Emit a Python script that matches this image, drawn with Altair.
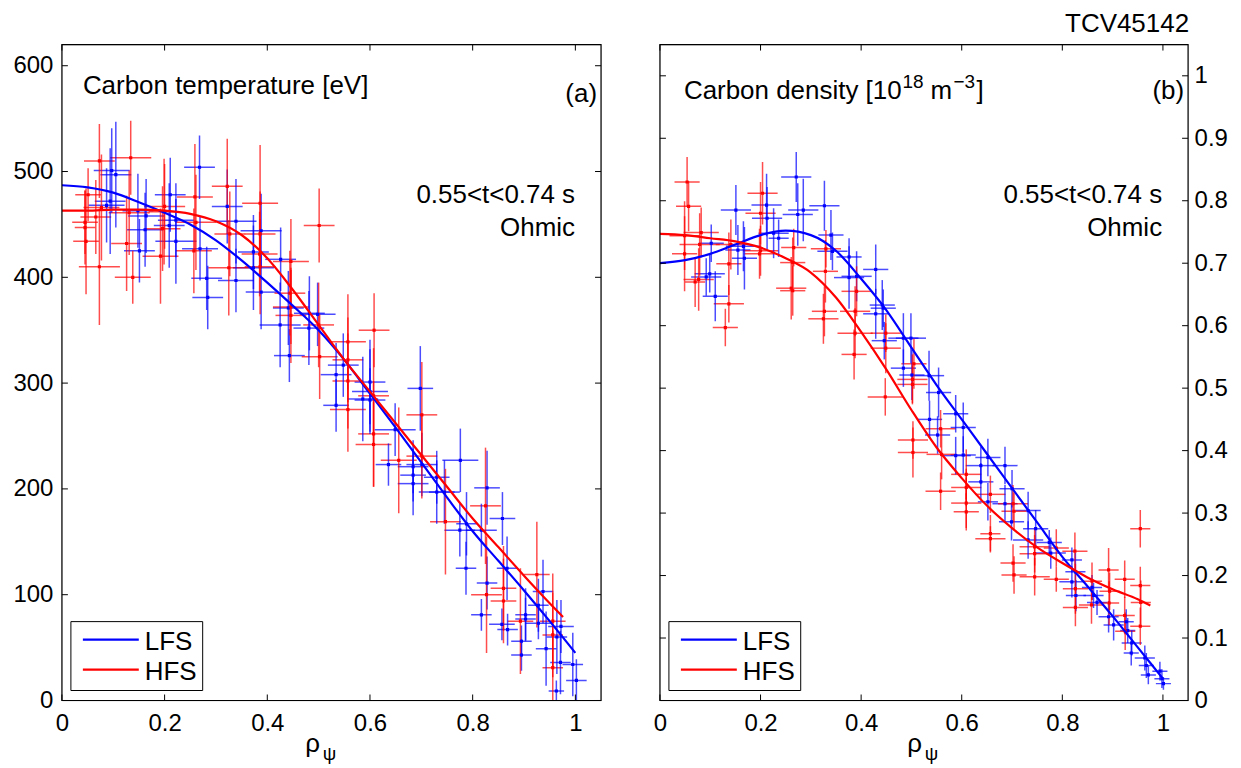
import altair as alt
import pandas as pd

# ---------------- data ----------------
XTICKS = [0, 0.2, 0.4, 0.6, 0.8, 1.0]
YTICKS_A = [0, 100, 200, 300, 400, 500, 600]
YTICKS_B = [0, 0.1, 0.2, 0.3, 0.4, 0.5, 0.6, 0.7, 0.8, 0.9, 1.0]
SIDES = ["LFS", "HFS"]
COLORS = ["#0000ff", "#ff0000"]

# Panel (a): carbon temperature [eV]
a_hfs_x = [0.045, 0.045, 0.047, 0.051, 0.066, 0.073, 0.073, 0.077, 0.126, 0.131, 0.134, 0.138,
           0.192, 0.196, 0.200, 0.199, 0.259, 0.261, 0.257, 0.322, 0.327, 0.325, 0.386, 0.386,
           0.385, 0.386, 0.446, 0.444, 0.446, 0.446, 0.501, 0.500, 0.502, 0.557, 0.557, 0.557,
           0.557, 0.608, 0.607, 0.607, 0.607, 0.656, 0.701, 0.701, 0.747, 0.825, 0.827, 0.860,
           0.860, 0.893, 0.925, 0.956, 0.956, 0.956]
a_hfs_y = [452, 447, 434, 478, 457, 510, 410, 466, 432, 461, 513, 400,
           420, 446, 467, 462, 476, 452, 425, 486, 441, 409, 470, 441,
           422, 410, 415, 385, 372, 364, 449, 355, 325, 339, 322, 302,
           275, 350, 288, 252, 242, 227, 270, 231, 169, 184, 100, 106,
           94, 75, 119, 75, 62, 31]
a_hfs_dx = [0.025, 0.02, 0.025, 0.025, 0.03, 0.03, 0.04, 0.035, 0.03, 0.04, 0.04, 0.035,
            0.035, 0.035, 0.04, 0.03, 0.035, 0.04, 0.035, 0.03, 0.03, 0.04, 0.035, 0.03,
            0.035, 0.03, 0.035, 0.03, 0.035, 0.03, 0.03, 0.03, 0.035, 0.035, 0.03, 0.03,
            0.035, 0.03, 0.03, 0.03, 0.035, 0.035, 0.03, 0.03, 0.03, 0.03, 0.03, 0.025,
            0.025, 0.025, 0.025, 0.025, 0.02, 0.02]
a_hfs_dy = [30, 35, 50, 25, 35, 35, 55, 50, 45, 40, 35, 25,
            45, 40, 40, 50, 50, 45, 40, 45, 40, 45, 55, 40,
            40, 45, 40, 40, 35, 45, 35, 40, 40, 45, 40, 45,
            40, 35, 45, 50, 40, 50, 50, 40, 50, 55, 55, 40,
            40, 50, 50, 45, 40, 35]

a_lfs_x = [0.087, 0.094, 0.097, 0.105, 0.148, 0.151, 0.162, 0.164, 0.209, 0.211, 0.222, 0.222,
           0.268, 0.269, 0.282, 0.284, 0.322, 0.339, 0.339, 0.373, 0.373, 0.388, 0.388, 0.426,
           0.425, 0.441, 0.443, 0.481, 0.482, 0.498, 0.534, 0.534, 0.548, 0.586, 0.600, 0.600,
           0.600, 0.636, 0.649, 0.684, 0.684, 0.684, 0.698, 0.701, 0.730, 0.730, 0.745, 0.776,
           0.775, 0.788, 0.787, 0.817, 0.817, 0.828, 0.828, 0.858, 0.867, 0.857, 0.868, 0.903,
           0.903, 0.895, 0.895, 0.928, 0.937, 0.928, 0.943, 0.964, 0.972, 0.971, 0.963, 0.995,
           1.002]
a_lfs_y = [468, 472, 501, 497, 463, 425, 445, 458, 449, 478, 454, 434,
           504, 427, 399, 381, 467, 453, 397, 424, 409, 444, 386, 417,
           355, 371, 326, 352, 366, 365, 308, 279, 317, 285, 301, 292,
           284, 223, 256, 221, 213, 205, 295, 223, 211, 197, 197, 227,
           161, 167, 125, 161, 81, 201, 111, 172, 125, 72, 67, 81,
           77, 56, 43, 90, 103, 73, 49, 60, 70, 36, 9, 34,
           19]
a_lfs_dx = [0.035, 0.03, 0.035, 0.03, 0.03, 0.03, 0.035, 0.035, 0.03, 0.03, 0.035, 0.04,
            0.03, 0.035, 0.03, 0.03, 0.03, 0.04, 0.035, 0.03, 0.04, 0.04, 0.03, 0.03,
            0.04, 0.03, 0.03, 0.03, 0.03, 0.035, 0.03, 0.025, 0.03, 0.03, 0.03, 0.035,
            0.03, 0.025, 0.04, 0.03, 0.025, 0.03, 0.025, 0.03, 0.025, 0.035, 0.03, 0.035,
            0.03, 0.02, 0.02, 0.03, 0.02, 0.025, 0.02, 0.025, 0.02, 0.025, 0.02, 0.02,
            0.02, 0.02, 0.02, 0.02, 0.02, 0.025, 0.02, 0.02, 0.025, 0.02, 0.015, 0.02,
            0.02]
a_lfs_dy = [35, 50, 40, 50, 35, 30, 35, 35, 40, 35, 35, 40,
            30, 30, 30, 30, 35, 40, 30, 35, 40, 35, 35, 30,
            40, 35, 25, 35, 35, 30, 30, 25, 30, 40, 40, 40,
            30, 20, 25, 25, 25, 30, 40, 30, 25, 30, 30, 30,
            25, 30, 25, 25, 15, 35, 25, 25, 30, 15, 15, 25,
            20, 15, 15, 25, 30, 15, 35, 35, 25, 30, 10, 30,
            20]

a_fit_lfs_x = [0, 0.05, 0.1, 0.15, 0.2, 0.25, 0.3, 0.35, 0.4, 0.45, 0.5, 0.55, 0.6, 0.65,
               0.7, 0.75, 0.8, 0.85, 0.9, 0.95, 1.0]
a_fit_lfs_y = [487, 485, 480, 471, 461, 450, 435, 416, 395, 373, 350, 322, 290, 258,
               225, 192, 160, 132, 104, 75, 45]
a_fit_hfs_x = [0, 0.05, 0.1, 0.15, 0.2, 0.25, 0.3, 0.35, 0.4, 0.45, 0.5, 0.55, 0.6, 0.65,
               0.7, 0.75, 0.8, 0.85, 0.9, 0.95, 0.976]
a_fit_hfs_y = [463, 463, 464, 464, 463, 460, 453, 440, 418, 388, 355, 322, 292, 262,
               232, 202, 172, 145, 118, 92, 79]

# Panel (b): carbon density [10^18 m^-3]
b_hfs_x = [0.049, 0.049, 0.054, 0.057, 0.070, 0.077, 0.079, 0.082, 0.130, 0.137, 0.137, 0.141,
           0.198, 0.200, 0.204, 0.200, 0.261, 0.264, 0.264, 0.266, 0.325, 0.327, 0.329, 0.330,
           0.386, 0.388, 0.388, 0.391, 0.448, 0.449, 0.449, 0.502, 0.502, 0.503, 0.503, 0.505,
           0.558, 0.560, 0.558, 0.609, 0.609, 0.609, 0.609, 0.657, 0.657, 0.657, 0.702, 0.704,
           0.702, 0.704, 0.745, 0.745, 0.745, 0.788, 0.788, 0.825, 0.826, 0.826, 0.859, 0.858,
           0.892, 0.894, 0.893, 0.924, 0.924, 0.925, 0.955, 0.955, 0.956, 0.955]
b_hfs_y = [0.744, 0.715, 0.830, 0.791, 0.670, 0.674, 0.730, 0.749, 0.597, 0.699, 0.635, 0.730,
           0.715, 0.780, 0.812, 0.720, 0.660, 0.701, 0.656, 0.725, 0.611, 0.623, 0.687, 0.723,
           0.554, 0.588, 0.623, 0.655, 0.486, 0.588, 0.564, 0.514, 0.506, 0.417, 0.397, 0.539,
           0.435, 0.394, 0.335, 0.362, 0.341, 0.316, 0.302, 0.330, 0.267, 0.259, 0.315, 0.303,
           0.220, 0.201, 0.246, 0.235, 0.198, 0.244, 0.194, 0.239, 0.179, 0.149, 0.191, 0.153,
           0.209, 0.175, 0.156, 0.194, 0.136, 0.111, 0.275, 0.184, 0.157, 0.119]
b_hfs_dx = [0.03, 0.025, 0.025, 0.025, 0.02, 0.03, 0.04, 0.035, 0.025, 0.025, 0.03, 0.03,
            0.03, 0.03, 0.03, 0.035, 0.03, 0.025, 0.025, 0.025, 0.03, 0.025, 0.025, 0.03,
            0.025, 0.035, 0.03, 0.03, 0.035, 0.03, 0.03, 0.03, 0.03, 0.03, 0.03, 0.025,
            0.03, 0.03, 0.03, 0.03, 0.03, 0.03, 0.025, 0.03, 0.02, 0.03, 0.03, 0.025,
            0.025, 0.025, 0.03, 0.03, 0.03, 0.025, 0.025, 0.025, 0.025, 0.025, 0.02, 0.025,
            0.02, 0.02, 0.02, 0.02, 0.02, 0.02, 0.02, 0.02, 0.02, 0.02]
b_hfs_dy = [0.055, 0.06, 0.04, 0.04, 0.04, 0.05, 0.05, 0.04, 0.03, 0.05, 0.03, 0.04,
            0.04, 0.05, 0.05, 0.04, 0.05, 0.04, 0.04, 0.03, 0.04, 0.04, 0.05, 0.03,
            0.04, 0.04, 0.04, 0.04, 0.03, 0.03, 0.04, 0.04, 0.03, 0.03, 0.04, 0.04,
            0.03, 0.04, 0.03, 0.04, 0.03, 0.04, 0.03, 0.03, 0.03, 0.02, 0.03, 0.03,
            0.03, 0.03, 0.03, 0.03, 0.03, 0.03, 0.02, 0.03, 0.04, 0.03, 0.03, 0.03,
            0.035, 0.03, 0.035, 0.03, 0.03, 0.03, 0.03, 0.03, 0.035, 0.03]

b_lfs_x = [0.092, 0.099, 0.102, 0.110, 0.151, 0.155, 0.166, 0.168, 0.212, 0.213, 0.226, 0.236,
           0.271, 0.274, 0.285, 0.327, 0.340, 0.343, 0.376, 0.376, 0.391, 0.429, 0.429, 0.442,
           0.444, 0.446, 0.484, 0.499, 0.484, 0.501, 0.535, 0.554, 0.536, 0.552, 0.588, 0.603,
           0.588, 0.603, 0.638, 0.652, 0.638, 0.686, 0.652, 0.686, 0.700, 0.699, 0.732, 0.747,
           0.732, 0.774, 0.777, 0.819, 0.819, 0.826, 0.827, 0.859, 0.862, 0.869, 0.892, 0.902,
           0.927, 0.930, 0.938, 0.937, 0.964, 0.967, 0.971, 0.994, 0.998, 1.001]
b_lfs_y = [0.678, 0.683, 0.732, 0.647, 0.785, 0.721, 0.727, 0.708, 0.793, 0.772, 0.748, 0.740,
           0.838, 0.778, 0.785, 0.792, 0.745, 0.719, 0.710, 0.677, 0.679, 0.690, 0.619, 0.633,
           0.628, 0.576, 0.580, 0.580, 0.532, 0.521, 0.520, 0.493, 0.450, 0.425, 0.459, 0.437,
           0.392, 0.393, 0.376, 0.389, 0.350, 0.376, 0.318, 0.315, 0.339, 0.286, 0.304, 0.275,
           0.257, 0.253, 0.236, 0.225, 0.190, 0.206, 0.168, 0.181, 0.168, 0.157, 0.134, 0.121,
           0.126, 0.112, 0.092, 0.076, 0.068, 0.056, 0.041, 0.047, 0.035, 0.027]
b_lfs_dx = [0.03, 0.03, 0.025, 0.025, 0.03, 0.025, 0.035, 0.025, 0.03, 0.03, 0.03, 0.02,
            0.03, 0.03, 0.03, 0.03, 0.025, 0.03, 0.025, 0.03, 0.03, 0.025, 0.025, 0.025,
            0.025, 0.025, 0.03, 0.03, 0.025, 0.025, 0.03, 0.025, 0.025, 0.025, 0.025, 0.025,
            0.03, 0.025, 0.03, 0.025, 0.025, 0.025, 0.02, 0.025, 0.025, 0.025, 0.025, 0.025,
            0.03, 0.025, 0.03, 0.02, 0.025, 0.02, 0.02, 0.02, 0.02, 0.02, 0.02, 0.02,
            0.015, 0.015, 0.02, 0.015, 0.02, 0.015, 0.015, 0.015, 0.015, 0.015]
b_lfs_dy = [0.03, 0.03, 0.03, 0.04, 0.04, 0.04, 0.04, 0.05, 0.05, 0.05, 0.04, 0.03,
            0.04, 0.05, 0.05, 0.04, 0.04, 0.03, 0.03, 0.05, 0.04, 0.04, 0.04, 0.04,
            0.03, 0.03, 0.04, 0.04, 0.03, 0.04, 0.04, 0.04, 0.03, 0.03, 0.03, 0.04,
            0.03, 0.03, 0.03, 0.03, 0.03, 0.03, 0.03, 0.03, 0.03, 0.03, 0.03, 0.03,
            0.03, 0.02, 0.025, 0.02, 0.025, 0.03, 0.025, 0.02, 0.02, 0.02, 0.025, 0.025,
            0.02, 0.02, 0.02, 0.02, 0.02, 0.02, 0.015, 0.015, 0.015, 0.01]

b_fit_lfs_x = [0, 0.05, 0.1, 0.15, 0.2, 0.25, 0.3, 0.35, 0.4, 0.45, 0.5, 0.55, 0.6, 0.65,
               0.7, 0.75, 0.8, 0.85, 0.9, 0.95, 1.0]
b_fit_lfs_y = [0.700, 0.705, 0.715, 0.730, 0.745, 0.752, 0.745, 0.720, 0.675, 0.625, 0.565,
               0.505, 0.450, 0.395, 0.340, 0.285, 0.230, 0.183, 0.135, 0.085, 0.035]
b_fit_hfs_x = [0, 0.05, 0.1, 0.15, 0.2, 0.25, 0.3, 0.35, 0.4, 0.45, 0.5, 0.55, 0.6, 0.65,
               0.7, 0.75, 0.8, 0.85, 0.9, 0.95, 0.975]
b_fit_hfs_y = [0.747, 0.745, 0.740, 0.735, 0.725, 0.708, 0.685, 0.645, 0.590, 0.530, 0.465,
               0.405, 0.356, 0.312, 0.276, 0.245, 0.220, 0.197, 0.178, 0.162, 0.152]

# ---------------- helpers ----------------
FONT = "Liberation Sans"
TICKLEN = 6
TXT = 26


def pts_frame(side, xs, ys, dxs, dys):
    df = pd.DataFrame({"x": xs, "y": ys, "dx": dxs, "dy": dys})
    df["side"] = side
    df["x1"] = df["x"] - df["dx"]
    df["x2"] = df["x"] + df["dx"]
    df["y1"] = df["y"] - df["dy"]
    df["y2"] = df["y"] + df["dy"]
    return df


def fit_frame(side, xs, ys):
    return pd.DataFrame({"x": xs, "y": ys, "side": side})


def text_layer(t, px, py, align="left", size=TXT):
    return alt.Chart(pd.DataFrame({"t": [t]})).mark_text(
        align=align, baseline="middle", fontSize=size, font=FONT, color="black"
    ).encode(x=alt.value(px), y=alt.value(py), text="t:N")


def panel(pts, fit, W, H, ydom, yticks, yfmt, yorient, texts, rho_x):
    xs = alt.Scale(domain=[0, 1.05], nice=False, zero=False)
    ys = alt.Scale(domain=ydom, nice=False, zero=False)
    xaxis = alt.Axis(values=XTICKS, format="~g", title=None, ticks=False, domain=False,
                     grid=False, labelFontSize=24, labelPadding=11, labelFlush=False,
                     labelColor="black", labelFont=FONT)
    yaxis = alt.Axis(values=yticks, format=yfmt, orient=yorient, title=None, ticks=False,
                     domain=False, grid=False, labelFontSize=24,
                     labelPadding=9 if yorient == "left" else 6, labelFlush=False,
                     labelColor="black", labelFont=FONT)
    color = alt.Color("side:N", scale=alt.Scale(domain=SIDES, range=COLORS), legend=None)

    X = lambda f: alt.X(f, scale=xs, axis=xaxis)
    Y = lambda f: alt.Y(f, scale=ys, axis=yaxis)

    base = alt.Chart(pts)
    hbar = base.mark_rule(strokeWidth=1.5, opacity=0.7, clip=True).encode(
        x=X("x1:Q"), x2="x2:Q", y=Y("y:Q"), color=color)
    vbar = base.mark_rule(strokeWidth=1.5, opacity=0.7, clip=True).encode(
        x=X("x:Q"), y=Y("y1:Q"), y2="y2:Q", color=color)
    dots = base.mark_square(size=10, opacity=1, clip=True).encode(
        x=X("x:Q"), y=Y("y:Q"), color=color)
    lines = alt.Chart(fit).mark_line(strokeWidth=2.2, clip=True, interpolate="monotone").encode(
        x=X("x:Q"), y=Y("y:Q"), color=color)

    xt = alt.Chart(pd.DataFrame({"v": XTICKS}))
    yt = alt.Chart(pd.DataFrame({"v": yticks}))
    tb = xt.mark_rule(color="black", strokeWidth=1).encode(
        x=X("v:Q"), y=alt.value(H), y2=alt.value(H - TICKLEN))
    tt = xt.mark_rule(color="black", strokeWidth=1).encode(
        x=X("v:Q"), y=alt.value(0), y2=alt.value(TICKLEN))
    tl = yt.mark_rule(color="black", strokeWidth=1).encode(
        y=Y("v:Q"), x=alt.value(0), x2=alt.value(TICKLEN))
    tr = yt.mark_rule(color="black", strokeWidth=1).encode(
        y=Y("v:Q"), x=alt.value(W), x2=alt.value(W - TICKLEN))

    # axes box
    frame = alt.Chart(pd.DataFrame({"k": [0]})).mark_rect(
        fill="white", fillOpacity=0, stroke="black", strokeWidth=1.2
    ).encode(x=alt.value(0), x2=alt.value(W), y=alt.value(0), y2=alt.value(H))

    # legend box (drawn inside the lower-left corner)
    lbox = alt.Chart(pd.DataFrame({"k": [0]})).mark_rect(
        fill="white", stroke="black", strokeWidth=1
    ).encode(x=alt.value(9), x2=alt.value(141), y=alt.value(H - 79), y2=alt.value(H - 10))
    leg_layers = [lbox]
    for i, (name, col) in enumerate(zip(SIDES, COLORS)):
        ly = H - 61 + 30 * i
        leg_layers.append(alt.Chart(pd.DataFrame({"k": [0]})).mark_rule(
            color=col, strokeWidth=2.2
        ).encode(x=alt.value(21), x2=alt.value(77), y=alt.value(ly)))
        leg_layers.append(text_layer(name, 83, ly + 2))

    layers = [hbar, vbar, dots, lines, tb, tt, tl, tr, frame] + leg_layers
    for (t, px, py, align, size) in texts:
        layers.append(text_layer(t, px, py, align, size))
    # axis title rho_psi
    layers.append(text_layer("ρ", rho_x, H + 44, "center", 26))
    layers.append(text_layer("ψ", rho_x + 17, H + 54, "center", 19))

    return alt.layer(*layers).properties(width=W, height=H)


pts_a = pd.concat([pts_frame("LFS", a_lfs_x, a_lfs_y, a_lfs_dx, a_lfs_dy),
                   pts_frame("HFS", a_hfs_x, a_hfs_y, a_hfs_dx, a_hfs_dy)], ignore_index=True)
fit_a = pd.concat([fit_frame("LFS", a_fit_lfs_x, a_fit_lfs_y),
                   fit_frame("HFS", a_fit_hfs_x, a_fit_hfs_y)], ignore_index=True)
pts_b = pd.concat([pts_frame("LFS", b_lfs_x, b_lfs_y, b_lfs_dx, b_lfs_dy),
                   pts_frame("HFS", b_hfs_x, b_hfs_y, b_hfs_dx, b_hfs_dy)], ignore_index=True)
fit_b = pd.concat([fit_frame("LFS", b_fit_lfs_x, b_fit_lfs_y),
                   fit_frame("HFS", b_fit_hfs_x, b_fit_hfs_y)], ignore_index=True)

WA, WB, H = 540, 529, 657

texts_a = [
    ("Carbon temperature [eV]", 21, 42, "left", TXT),
    ("(a)", WA - 4, 50, "right", TXT),
    ("0.55<t<0.74 s", 514, 151, "right", TXT),
    ("Ohmic", 514, 184, "right", TXT),
]
texts_b = [
    ("Carbon density [10", 24, 47, "left", TXT),
    ("18", 243, 38, "left", 19),
    ("m", 271, 47, "left", TXT),
    ("−3", 294, 38, "left", 19),
    ("]", 317, 47, "left", TXT),
    ("(b)", WB - 4, 47, "right", TXT),
    ("0.55<t<0.74 s", 503, 151, "right", TXT),
    ("Ohmic", 503, 184, "right", TXT),
    ("TCV45142", WB + 1, -21, "right", TXT),
]

pa = panel(pts_a, fit_a, WA, H, [0, 620], YTICKS_A, "d", "left", texts_a, 251)
pb = panel(pts_b, fit_b, WB, H, [0, 1.05], YTICKS_B, "~g", "right", texts_b, 255)

chart = alt.hconcat(pa, pb, spacing=49).resolve_scale(
    color="independent", x="independent", y="independent"
).properties(
    padding={"left": 4, "top": 1, "right": 5, "bottom": 5}
).configure_view(stroke=None).configure(font=FONT)

chart.save("out.html", embed_options={"renderer": "svg", "actions": False})
